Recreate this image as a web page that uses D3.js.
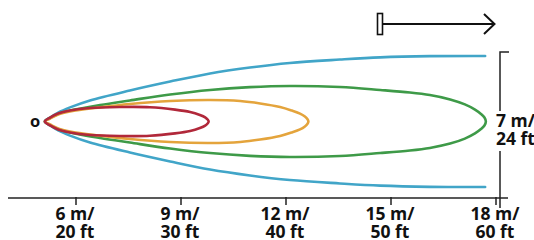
<!DOCTYPE html>
<html><head><meta charset="utf-8">
<script src="https://cdn.jsdelivr.net/npm/d3@7"></script>
<style>
html,body{margin:0;padding:0;background:#fff;}
svg{display:block;}
text{font-family:"Open Sans",sans-serif;font-weight:700;fill:#111;}
</style></head>
<body>
<svg id="chart" width="534" height="240"></svg>
<script>
// ---- data (metres) ----
const distanceTicks = [6, 9, 12, 15, 18];
const tickLabelsM = ["6 m/", "9 m/", "12 m/", "15 m/", "18 m/"];
const tickLabelsFt = ["20 ft", "30 ft", "40 ft", "50 ft", "60 ft"];
const widthLabel = ["7 m/", "24 ft"];
const originLabel = "o";

const seriesNames = ["Blue", "Green", "Orange", "Red"];
const seriesColors = ["#41a5c8", "#3e9a48", "#e4a43c", "#b1283a"];

// distance along axis (m) and half-width (m) of each zone
const blueDist = [5.11, 5.26, 5.49, 5.83, 6.40, 7.54, 8.69, 9.83, 10.97, 12.11, 13.54, 14.69, 16.11, 17.69];
const blueHalf = [0, 0.20, 0.45, 0.71, 1.06, 1.56, 2.01, 2.42, 2.72, 2.95, 3.12, 3.23, 3.29, 3.30];

const greenDist = [5.11, 5.26, 5.49, 5.83, 6.69, 7.54, 8.69, 9.83, 10.97, 12.11, 13.54, 14.69, 15.54, 16.11, 16.69, 17.11, 17.40, 17.57, 17.67, 17.71];
const greenHalf = [0, 0.18, 0.38, 0.55, 0.83, 1.06, 1.36, 1.59, 1.73, 1.79, 1.74, 1.59, 1.46, 1.33, 1.11, 0.86, 0.60, 0.38, 0.20, 0];

const orangeDist = [5.11, 5.26, 5.49, 5.83, 6.69, 7.54, 8.69, 9.83, 10.69, 11.26, 11.83, 12.17, 12.40, 12.54, 12.61, 12.64];
const orangeHalf = [0, 0.15, 0.35, 0.50, 0.71, 0.88, 1.03, 1.08, 1.03, 0.91, 0.73, 0.55, 0.40, 0.25, 0.13, 0];

const redDist = [5.11, 5.26, 5.49, 5.83, 6.40, 7.26, 8.11, 8.83, 9.26, 9.54, 9.69, 9.76, 9.79];
const redHalf = [0, 0.20, 0.40, 0.55, 0.68, 0.73, 0.72, 0.60, 0.48, 0.33, 0.21, 0.10, 0];

// ---- layout ----
const svg = d3.select("#chart");
const x = d3.scaleLinear().domain([6, 18]).range([76, 496]);
const y = d3.scaleLinear().domain([-3.5, 3.5]).range([191, 52]);
const axisY = 198;
const fontSize = 17.5;

// axis line
svg.append("line").attr("x1", 8).attr("x2", 508).attr("y1", axisY).attr("y2", axisY)
  .attr("stroke", "#222").attr("stroke-width", 1.5);

const ticks = svg.append("g");
distanceTicks.forEach((d, i) => {
  ticks.append("line").attr("x1", x(d)).attr("x2", x(d)).attr("y1", axisY - 1).attr("y2", axisY + 7)
    .attr("stroke", "#222").attr("stroke-width", 1.5);
  const t = ticks.append("text").attr("text-anchor", "middle").attr("font-size", fontSize);
  t.append("tspan").attr("x", x(d) - 1).attr("y", 220).text(tickLabelsM[i]);
  t.append("tspan").attr("x", x(d) - 1).attr("y", 237.5).text(tickLabelsFt[i]);
});

// width scale bar
const barX = 500;
svg.append("path")
  .attr("d", `M${barX + 9},${y(3.5)}H${barX}V111`)
  .attr("fill", "none").attr("stroke", "#222").attr("stroke-width", 1.5);
svg.append("line").attr("x1", barX).attr("x2", barX).attr("y1", 151).attr("y2", axisY + 10)
  .attr("stroke", "#222").attr("stroke-width", 1.5);
const wl = svg.append("text").attr("font-size", fontSize);
wl.append("tspan").attr("x", 496).attr("y", 127).text(widthLabel[0]);
wl.append("tspan").attr("x", 496).attr("y", 145).text(widthLabel[1]);

// origin label
svg.append("text").attr("x", 35).attr("y", y(0) + 5).attr("text-anchor", "middle")
  .attr("font-size", 16.5).text(originLabel);

// zones
const closedLine = d3.line().x(p => x(p[0])).y(p => y(p[1])).curve(d3.curveCatmullRomClosed.alpha(0.5));
const openLine = d3.line().x(p => x(p[0])).y(p => y(p[1])).curve(d3.curveCatmullRom.alpha(0.5));

function loop(dist, half) {
  const top = dist.map((d, i) => [d, half[i]]);
  const bottom = dist.slice(1, -1).map((d, i) => [d, -half[i + 1]]).reverse();
  return top.concat(bottom);
}
function open(dist, half) {
  const top = dist.map((d, i) => [d, half[i]]).reverse();
  const bottom = dist.slice(1).map((d, i) => [d, -half[i + 1]]);
  return top.concat(bottom);
}

const zones = svg.append("g").attr("fill", "none").attr("stroke-width", 2.6).attr("stroke-linecap", "round");
zones.append("path").attr("d", openLine(open(blueDist, blueHalf))).attr("stroke", seriesColors[0]);
zones.append("path").attr("d", closedLine(loop(greenDist, greenHalf))).attr("stroke", seriesColors[1]);
zones.append("path").attr("d", closedLine(loop(orangeDist, orangeHalf))).attr("stroke", seriesColors[2]);
zones.append("path").attr("d", closedLine(loop(redDist, redHalf))).attr("stroke", seriesColors[3]);

// direction arrow
const arr = svg.append("g").attr("stroke", "#111").attr("fill", "none");
arr.append("rect").attr("x", 377.5).attr("y", 13.5).attr("width", 5).attr("height", 21)
  .attr("fill", "#fff").attr("stroke-width", 1.6);
arr.append("line").attr("x1", 382.5).attr("x2", 494).attr("y1", 24).attr("y2", 24).attr("stroke-width", 2);
arr.append("path").attr("d", "M484,14L494.5,24L484,34").attr("stroke-width", 2);
</script>
</body></html>
